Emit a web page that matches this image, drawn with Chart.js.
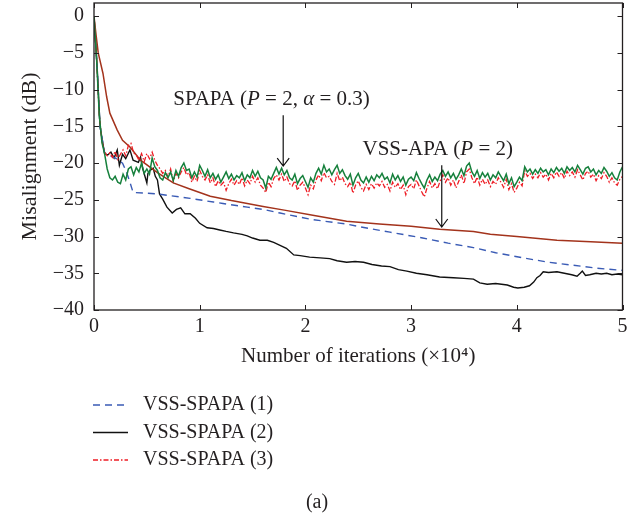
<!DOCTYPE html>
<html>
<head>
<meta charset="utf-8">
<script src="https://cdn.jsdelivr.net/npm/chart.js@4.4.1/dist/chart.umd.min.js"></script>
<style>
  html, body { margin: 0; padding: 0; background: #fff; }
  #wrap { width: 644px; height: 518px; }
</style>
</head>
<body>
<div id="wrap"><canvas id="misChart" width="644" height="518"></canvas></div>
<script>
// axis ticks
const xTicks = [0, 1, 2, 3, 4, 5];
const yTicks = [0, -5, -10, -15, -20, -25, -30, -35, -40];

// noisy curves are sampled every 0.025 (x 10^4 iterations), starting at 0
const noisyStep = 0.025;
const spapaDb = [
  0, -6, -13.5, -17.2, -18.7, -20.8, -22, -22.3, -21.8, -22.6,
  -22.8, -21.5, -22.3, -20.8, -20.5, -21.6, -20.6, -21.2, -20.0, -21.4,
  -20.8, -21.5, -19.3, -20.5, -21.0, -22.0, -22.3, -21.3, -22.0, -21.2,
  -22.4, -21.0, -21.8, -20.6, -20.0, -21.0, -20.8, -22.0, -21.2, -21.9,
  -20.3, -21.0, -21.8, -20.9, -22.0, -21.4, -22.2, -21.6, -22.6, -21.9,
  -21.2, -22.1, -21.5, -22.3, -21.7, -22.0, -21.3, -22.4, -21.6, -22.0,
  -21.0, -21.8, -21.1, -22.0, -22.3, -23.4, -21.8, -22.2, -21.4, -20.6,
  -21.5, -20.7, -21.6, -21.0, -22.0, -22.3, -21.5, -22.8, -22.1, -21.7,
  -22.5, -23.3, -22.0, -22.6, -21.4, -20.7, -21.5, -20.3, -21.2, -20.8,
  -21.6, -20.9, -20.3, -21.4, -20.9, -21.7, -22.2, -21.5, -23.0, -22.0,
  -21.4, -22.3, -22.7, -21.9, -22.6, -21.8, -22.4, -21.6, -22.0, -21.4,
  -22.2, -21.9, -22.7, -21.5, -22.3, -21.7, -22.5, -21.9, -23.0, -22.2,
  -21.9, -22.4, -21.3, -22.1, -22.8, -23.4, -22.3, -21.6, -22.5, -21.9,
  -22.4, -21.5, -21.0, -21.8, -21.2, -22.0, -21.4, -22.2, -21.6, -20.8,
  -21.7, -20.4, -20.0, -21.2, -21.8, -21.0, -22.1, -21.3, -21.9, -21.4,
  -22.3, -21.6, -22.0, -21.2, -21.8, -22.4, -21.5, -22.8, -22.0, -23.2,
  -22.6, -21.9, -22.4, -20.5, -21.2, -20.8, -21.5, -20.9, -21.4, -20.7,
  -21.2, -20.9, -21.6, -20.8, -21.3, -20.6, -21.1, -20.7, -21.4, -20.5,
  -21.0, -20.6, -21.2, -20.3, -20.9, -21.5, -20.7, -20.5, -21.2, -20.8,
  -21.6, -21.0, -21.4, -20.6, -21.1, -21.8, -21.3, -22.0, -22.3, -21.2,
  -20.5
];
const vss3Db = [
  0, -6, -13.5, -17, -18.5, -19.0, -18.6, -19.2, -18.4, -19.5,
  -18.8, -18.2, -19.0, -17.6, -17.3, -18.6, -18.9, -19.6, -18.7, -19.8,
  -18.7, -19.4, -18.5, -19.6, -20.3, -20.8, -21.4, -21.0, -21.9, -20.8,
  -22.5, -21.4, -22.0, -21.2, -20.6, -21.6, -21.3, -22.6, -21.8, -22.5,
  -21.0, -21.8, -22.3, -21.6, -22.7, -22.0, -23.2, -22.4, -23.0, -22.6,
  -23.7, -22.8, -22.2, -23.0, -22.4, -22.9, -22.0, -23.1, -22.3, -22.8,
  -21.8, -22.6, -22.0, -23.0, -23.4, -24.0, -22.6, -23.2, -22.1, -21.6,
  -22.3, -21.5, -22.5, -21.9, -22.8, -23.1, -22.4, -23.7, -23.0, -22.6,
  -23.4, -24.3, -23.0, -23.5, -22.3, -21.6, -22.4, -21.3, -22.0, -21.8,
  -22.5, -22.9, -21.4, -22.4, -21.9, -22.8, -23.2, -22.6, -24.1, -23.0,
  -22.4, -23.3, -23.8, -22.9, -23.6, -22.8, -23.4, -22.7, -23.1, -22.5,
  -23.3, -22.9, -23.8, -22.6, -23.3, -22.8, -23.6, -23.0, -24.3, -23.2,
  -22.9, -23.5, -22.3, -23.1, -23.9, -24.6, -23.4, -22.5, -23.4, -22.8,
  -23.5, -22.4, -21.6, -22.6, -22.0, -23.0, -22.3, -23.4, -22.5, -21.6,
  -22.8, -21.2, -20.8, -22.0, -22.8, -21.9, -23.0, -22.2, -22.9, -22.3,
  -23.2, -22.5, -22.9, -22.0, -22.6, -23.3, -22.2, -23.6, -22.8, -24.0,
  -23.4, -22.6, -23.1, -21.0, -21.8, -21.4, -22.1, -21.5, -22.0, -21.3,
  -21.9, -21.5, -22.3, -21.4, -22.0, -21.2, -21.8, -21.3, -22.1, -21.1,
  -21.7, -21.2, -21.9, -20.9, -21.6, -22.3, -21.4, -21.1, -21.9, -21.5,
  -22.4, -21.7, -22.1, -21.3, -21.8, -22.6, -22.0, -22.7, -23.0, -22.2,
  -21.8
];

// smoother curves, read at their own x positions
const vssApaX  = [0, 0.02, 0.04, 0.085, 0.12, 0.15, 0.22, 0.27, 0.34, 0.44, 0.6, 0.75, 0.9, 1.1, 1.3, 1.6, 1.8, 2.07, 2.39, 2.7, 3.0, 3.27, 3.59, 3.75, 4.0, 4.38, 4.7, 5];
const vssApaDb = [0, -2.6, -5, -7.8, -11, -13.2, -15.5, -16.9, -17.8, -19.6, -21.3, -22.7, -23.5, -24.5, -25.1, -25.9, -26.4, -27.1, -27.9, -28.3, -28.6, -29.0, -29.3, -29.7, -30.0, -30.5, -30.7, -30.9];

const vss1X  = [0, 0.03, 0.057, 0.1, 0.15, 0.2, 0.27, 0.31, 0.34, 0.37, 0.5, 0.6, 0.81, 0.91, 1.13, 1.22, 1.45, 1.6, 1.76, 2.07, 2.39, 2.6, 2.8, 3.11, 3.35, 3.59, 3.8, 4.06, 4.3, 4.53, 4.75, 5];
const vss1Db = [0, -7, -15, -18.6, -19, -19.3, -20, -21.3, -22.6, -24, -24.1, -24.2, -24.6, -24.8, -25.3, -25.5, -26.0, -26.3, -26.8, -27.7, -28.3, -28.9, -29.4, -30.2, -30.9, -31.5, -32.2, -32.9, -33.5, -33.9, -34.3, -34.6];

const vss2X  = [0, 0.03, 0.057, 0.1, 0.13, 0.16, 0.19, 0.22, 0.24, 0.27, 0.3, 0.34, 0.37, 0.42, 0.44, 0.46, 0.5, 0.51, 0.53, 0.56, 0.58, 0.6, 0.62, 0.65, 0.69, 0.74, 0.78, 0.82, 0.86, 0.91, 0.96, 1.0, 1.07, 1.13, 1.19, 1.25, 1.32, 1.4, 1.45, 1.5, 1.57, 1.64, 1.7, 1.76, 1.82, 1.89, 1.95, 2.04, 2.14, 2.23, 2.3, 2.39, 2.47, 2.55, 2.63, 2.72, 2.8, 2.88, 2.96, 3.05, 3.15, 3.27, 3.4, 3.5, 3.59, 3.65, 3.72, 3.8, 3.91, 3.97, 4.01, 4.07, 4.12, 4.16, 4.19, 4.22, 4.25, 4.3, 4.38, 4.45, 4.52, 4.57, 4.6, 4.62, 4.65, 4.69, 4.75, 4.8, 4.85, 4.9, 4.95, 5];
const vss2Db = [0, -7, -15, -18.7, -18.9, -18.5, -19.3, -18.2, -20.3, -18.8, -19.4, -18.2, -19.6, -19.9, -19.2, -20.7, -22.7, -21.4, -21.0, -20.7, -21.8, -22.3, -24.2, -24.9, -26, -26.8, -26.3, -26.1, -26.9, -26.9, -27.5, -28.2, -28.8, -28.9, -29.1, -29.3, -29.5, -29.7, -29.9, -30.2, -30.5, -30.5, -30.8, -31.2, -31.6, -32.5, -32.6, -32.8, -32.9, -33.0, -33.3, -33.5, -33.4, -33.5, -33.8, -34.0, -34.1, -34.5, -34.7, -35.0, -35.2, -35.5, -35.6, -35.7, -35.8, -36.3, -36.5, -36.4, -36.6, -36.9, -37.0, -36.9, -36.7, -36.2, -35.6, -35.3, -34.8, -34.9, -34.8, -35.0, -35.2, -35.4, -35.0, -34.7, -35.3, -35.2, -35.0, -35.1, -35.0, -35.2, -35.1, -35.2];

const serif = '"Liberation Serif", "DejaVu Serif", serif';
const textColor = '#231f20';

function pairs(xs, ys) {
  return ys.map((y, i) => ({ x: xs[i], y: y }));
}
function gridPairs(ys) {
  return ys.map((y, i) => ({ x: +(i * noisyStep).toFixed(3), y: y }));
}
const minus = v => String(v).replace('-', '\u2212');

// draws a run of [text, italic] pieces starting at x
function drawRich(ctx, parts, x, y, size) {
  parts.forEach(p => {
    ctx.font = (p[1] ? 'italic ' : '') + size + 'px ' + serif;
    ctx.fillText(p[0], x, y);
    x += ctx.measureText(p[0]).width;
  });
}

function drawArrow(ctx, x, y0, y1) {
  ctx.beginPath();
  ctx.moveTo(x, y0);
  ctx.lineTo(x, y1);
  ctx.moveTo(x - 6, y1 - 8);
  ctx.lineTo(x, y1);
  ctx.lineTo(x + 6, y1 - 8);
  ctx.stroke();
}

const framePlugin = {
  id: 'frame',
  afterDatasetsDraw(chart) {
    const ctx = chart.ctx;
    const a = chart.chartArea;
    const xs = chart.scales.x, ys = chart.scales.y;
    ctx.save();
    ctx.strokeStyle = '#231f20';
    ctx.lineWidth = 1.3;
    ctx.strokeRect(a.left, a.top, a.right - a.left, a.bottom - a.top);
    ctx.lineWidth = 1;
    ctx.beginPath();
    xTicks.forEach(v => {
      const px = Math.round(xs.getPixelForValue(v)) + 0.5;
      ctx.moveTo(px, a.bottom); ctx.lineTo(px, a.bottom - 5);
      ctx.moveTo(px, a.top); ctx.lineTo(px, a.top + 5);
    });
    yTicks.forEach(v => {
      const py = Math.round(ys.getPixelForValue(v)) + 0.5;
      ctx.moveTo(a.left, py); ctx.lineTo(a.left + 5, py);
      ctx.moveTo(a.right, py); ctx.lineTo(a.right - 5, py);
    });
    ctx.stroke();

    // annotations with arrows
    ctx.fillStyle = textColor;
    ctx.strokeStyle = '#111';
    ctx.lineWidth = 1.2;
    ctx.textBaseline = 'middle';
    ctx.textAlign = 'left';
    drawRich(ctx, [['SPAPA (', false], ['P', true], [' = 2, ', false], ['\u03b1', true], [' = 0.3)', false]],
      xs.getPixelForValue(0.75), ys.getPixelForValue(-11.4), 21);
    drawArrow(ctx, xs.getPixelForValue(1.79), ys.getPixelForValue(-13.5), ys.getPixelForValue(-20.4));
    drawRich(ctx, [['VSS-APA (', false], ['P', true], [' = 2)', false]],
      xs.getPixelForValue(2.54), ys.getPixelForValue(-18.2), 21);
    drawArrow(ctx, xs.getPixelForValue(3.29), ys.getPixelForValue(-20.3), ys.getPixelForValue(-28.7));

    // legend below the axes
    const rows = chart.data.datasets.filter(d => d.inLegend);
    rows.sort((p, q) => p.legendRow - q.legendRow);
    rows.forEach((d, i) => {
      const cy = 405 + i * 27.5;
      ctx.strokeStyle = d.borderColor;
      ctx.lineWidth = d.borderWidth;
      ctx.setLineDash(d.borderDash || []);
      ctx.beginPath();
      ctx.moveTo(93, cy); ctx.lineTo(128, cy);
      ctx.stroke();
      ctx.setLineDash([]);
      ctx.font = '20px ' + serif;
      ctx.fillText(d.label, 143, cy);
    });
    ctx.textAlign = 'center';
    ctx.font = '20px ' + serif;
    ctx.fillText('(a)', 317, 503);
    ctx.restore();
  }
};

new Chart(document.getElementById('misChart'), {
  type: 'line',
  data: {
    datasets: [
      { label: 'SPAPA (P = 2, \u03b1 = 0.3)', data: gridPairs(spapaDb), borderColor: '#16803c', borderWidth: 1.5 },
      { label: 'VSS-SPAPA (3)', data: gridPairs(vss3Db), borderColor: '#ee1c24', borderWidth: 1.3, borderDash: [5, 2, 1.5, 2], inLegend: true, legendRow: 2 },
      { label: 'VSS-APA (P = 2)', data: pairs(vssApaX, vssApaDb), borderColor: '#a3331c', borderWidth: 1.5 },
      { label: 'VSS-SPAPA (1)', data: pairs(vss1X, vss1Db), borderColor: '#3a5bb5', borderWidth: 1.4, borderDash: [7, 5], inLegend: true, legendRow: 0 },
      { label: 'VSS-SPAPA (2)', data: pairs(vss2X, vss2Db), borderColor: '#111111', borderWidth: 1.4, inLegend: true, legendRow: 1 }
    ]
  },
  options: {
    responsive: false,
    animation: false,
    events: [],
    elements: { point: { radius: 0 }, line: { tension: 0, fill: false } },
    layout: { padding: { left: 0, right: 21.5, top: 3, bottom: 138 } },
    plugins: { legend: { display: false }, tooltip: { enabled: false } },
    scales: {
      x: {
        type: 'linear',
        min: 0, max: 5,
        afterBuildTicks: s => { s.ticks = xTicks.map(v => ({ value: v })); },
        afterFit: s => { s.height = 70; s.paddingLeft = 0; s.paddingRight = 0; },
        grid: { display: false, drawTicks: false },
        border: { display: false },
        ticks: { padding: 5, color: textColor, font: { family: serif, size: 20 } },
        title: { display: true, text: 'Number of iterations (\u00d710\u2074)', color: textColor,
                 font: { family: serif, size: 21 }, padding: { top: 0, bottom: 11 } }
      },
      y: {
        type: 'linear',
        min: -40, max: 1.8,
        afterBuildTicks: s => { s.ticks = yTicks.map(v => ({ value: v })); },
        afterFit: s => { s.width = 94; s.paddingTop = 0; s.paddingBottom = 0; },
        grid: { display: false, drawTicks: false },
        border: { display: false },
        ticks: { padding: 10, color: textColor, font: { family: serif, size: 20 }, callback: v => minus(v) },
        title: { display: true, text: 'Misalignment (dB)', color: textColor,
                 font: { family: serif, size: 22 }, padding: { top: 17, bottom: 0 } }
      }
    }
  },
  plugins: [framePlugin]
});
</script>
</body>
</html>
